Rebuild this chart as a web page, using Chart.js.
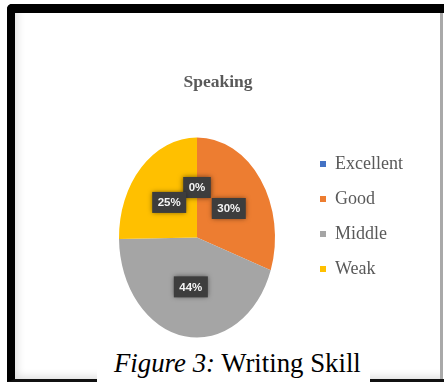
<!DOCTYPE html>
<html>
<head>
<meta charset="utf-8">
<title>Speaking</title>
<script src="https://cdn.jsdelivr.net/npm/chart.js@4.4.0/dist/chart.umd.min.js"></script>
<style>
  html, body { margin: 0; padding: 0; background: #fff; }
  body { width: 444px; height: 382px; position: relative; overflow: hidden; }

  /* heavy black frame round the chart */
  #frame {
    position: absolute; left: 7px; top: 4px; width: 447px; height: 378px;
    box-sizing: border-box;
    border-left: 8px solid #000; border-top: 9px solid #000; border-bottom: 3px solid #111;
    border-top-left-radius: 5px;
  }
  #panel {
    position: absolute; left: 15px; top: 13px; width: 425px; height: 366px;
    border-right: 3px solid #a9a9a9;
    box-shadow: inset 7px -7px 8px -5px rgba(0, 0, 0, 0.14);
  }
  #chartBox { position: absolute; left: 15px; top: 13px; width: 425px; height: 365px; }

  #caption {
    position: absolute; left: 97px; top: 343px; width: 273px; height: 40px;
    background: #fff; box-sizing: border-box; padding-left: 17px;
    font-family: "Liberation Serif", "Times New Roman", serif; font-size: 26.8px;
    line-height: 40px; color: #000; white-space: nowrap;
  }
</style>
</head>
<body>
<div id="frame"></div>
<div id="panel"></div>
<div id="chartBox"><canvas id="speakingChart" width="425" height="365"></canvas></div>
<div id="caption"><i>Figure 3:</i> Writing Skill</div>

<script>
const chartTitle = 'Speaking';
const categories = ['Excellent', 'Good', 'Middle', 'Weak'];
const shares = [0, 30, 44, 25];
const sliceColors = ['#4472C4', '#ED7D31', '#A5A5A5', '#FFC000'];

// pie is drawn with radius 78 and then stretched into an oval
const PIE_RADIUS = 78;
const STRETCH_Y = 100 / 78;
// the legend only reserves a narrow strip, its labels run on into the right padding
const LEGEND_SLOT = 42;
const LEGEND_DRAW_WIDTH = 120;

// stretch the slices vertically around the pie centre, then put
// the dark percentage tags on top of them
const ovalPie = {
    id: 'ovalPie',
    afterLayout(chart) {
        const lg = chart.legend;
        lg.width = LEGEND_DRAW_WIDTH;
        lg.right = lg.left + LEGEND_DRAW_WIDTH;
    },
    beforeDatasetsDraw(chart) {
        const arc = chart.getDatasetMeta(0).data[0];
        const ctx = chart.ctx;
        ctx.save();
        ctx.translate(arc.x, arc.y);
        ctx.scale(1, STRETCH_Y);
        ctx.translate(-arc.x, -arc.y);
    },
    afterDatasetsDraw(chart) {
        const ctx = chart.ctx;
        ctx.restore();

        const meta = chart.getDatasetMeta(0);
        ctx.save();
        ctx.font = 'bold 11.5px "Liberation Sans", Arial, sans-serif';
        ctx.textAlign = 'center';
        ctx.textBaseline = 'middle';
        meta.data.forEach((arc, i) => {
            const p = arc.tooltipPosition();
            const x = p.x;
            const y = arc.y + (p.y - arc.y) * STRETCH_Y;
            const text = shares[i] + '%';
            const w = ctx.measureText(text).width + 11;
            const h = 21;

            ctx.shadowColor = 'rgba(0, 0, 0, 0.55)';
            ctx.shadowBlur = 5;
            ctx.fillStyle = '#3d3d3d';
            ctx.fillRect(x - w / 2, y - h / 2, w, h);

            ctx.shadowBlur = 0;
            ctx.shadowColor = 'transparent';
            ctx.fillStyle = '#f4f4f4';
            ctx.fillText(text, x, y + 0.5);
        });
        ctx.restore();
    }
};

Chart.defaults.font.family = '"Liberation Serif", "Times New Roman", serif';

new Chart(document.getElementById('speakingChart'), {
    type: 'pie',
    data: {
        labels: categories,
        datasets: [{
            data: shares,
            backgroundColor: sliceColors,
            borderWidth: 0,
            radius: PIE_RADIUS,
            clip: false
        }]
    },
    options: {
        responsive: false,
        animation: false,
        layout: { padding: { left: 76, right: 95, top: 0, bottom: 41 } },
        plugins: {
            title: {
                display: true,
                text: chartTitle,
                color: '#595959',
                font: { size: 17.5, weight: 'bold', lineHeight: 1.2 },
                padding: { top: 59, bottom: 45 }
            },
            legend: {
                position: 'right',
                align: 'start',
                fullSize: false,
                maxWidth: LEGEND_SLOT,
                labels: {
                    boxWidth: 6,
                    boxHeight: 6,
                    padding: 17,
                    color: '#595959',
                    textAlign: 'left',
                    font: { size: 18 }
                }
            },
            tooltip: { enabled: false }
        }
    },
    plugins: [ovalPie]
});
</script>
</body>
</html>
